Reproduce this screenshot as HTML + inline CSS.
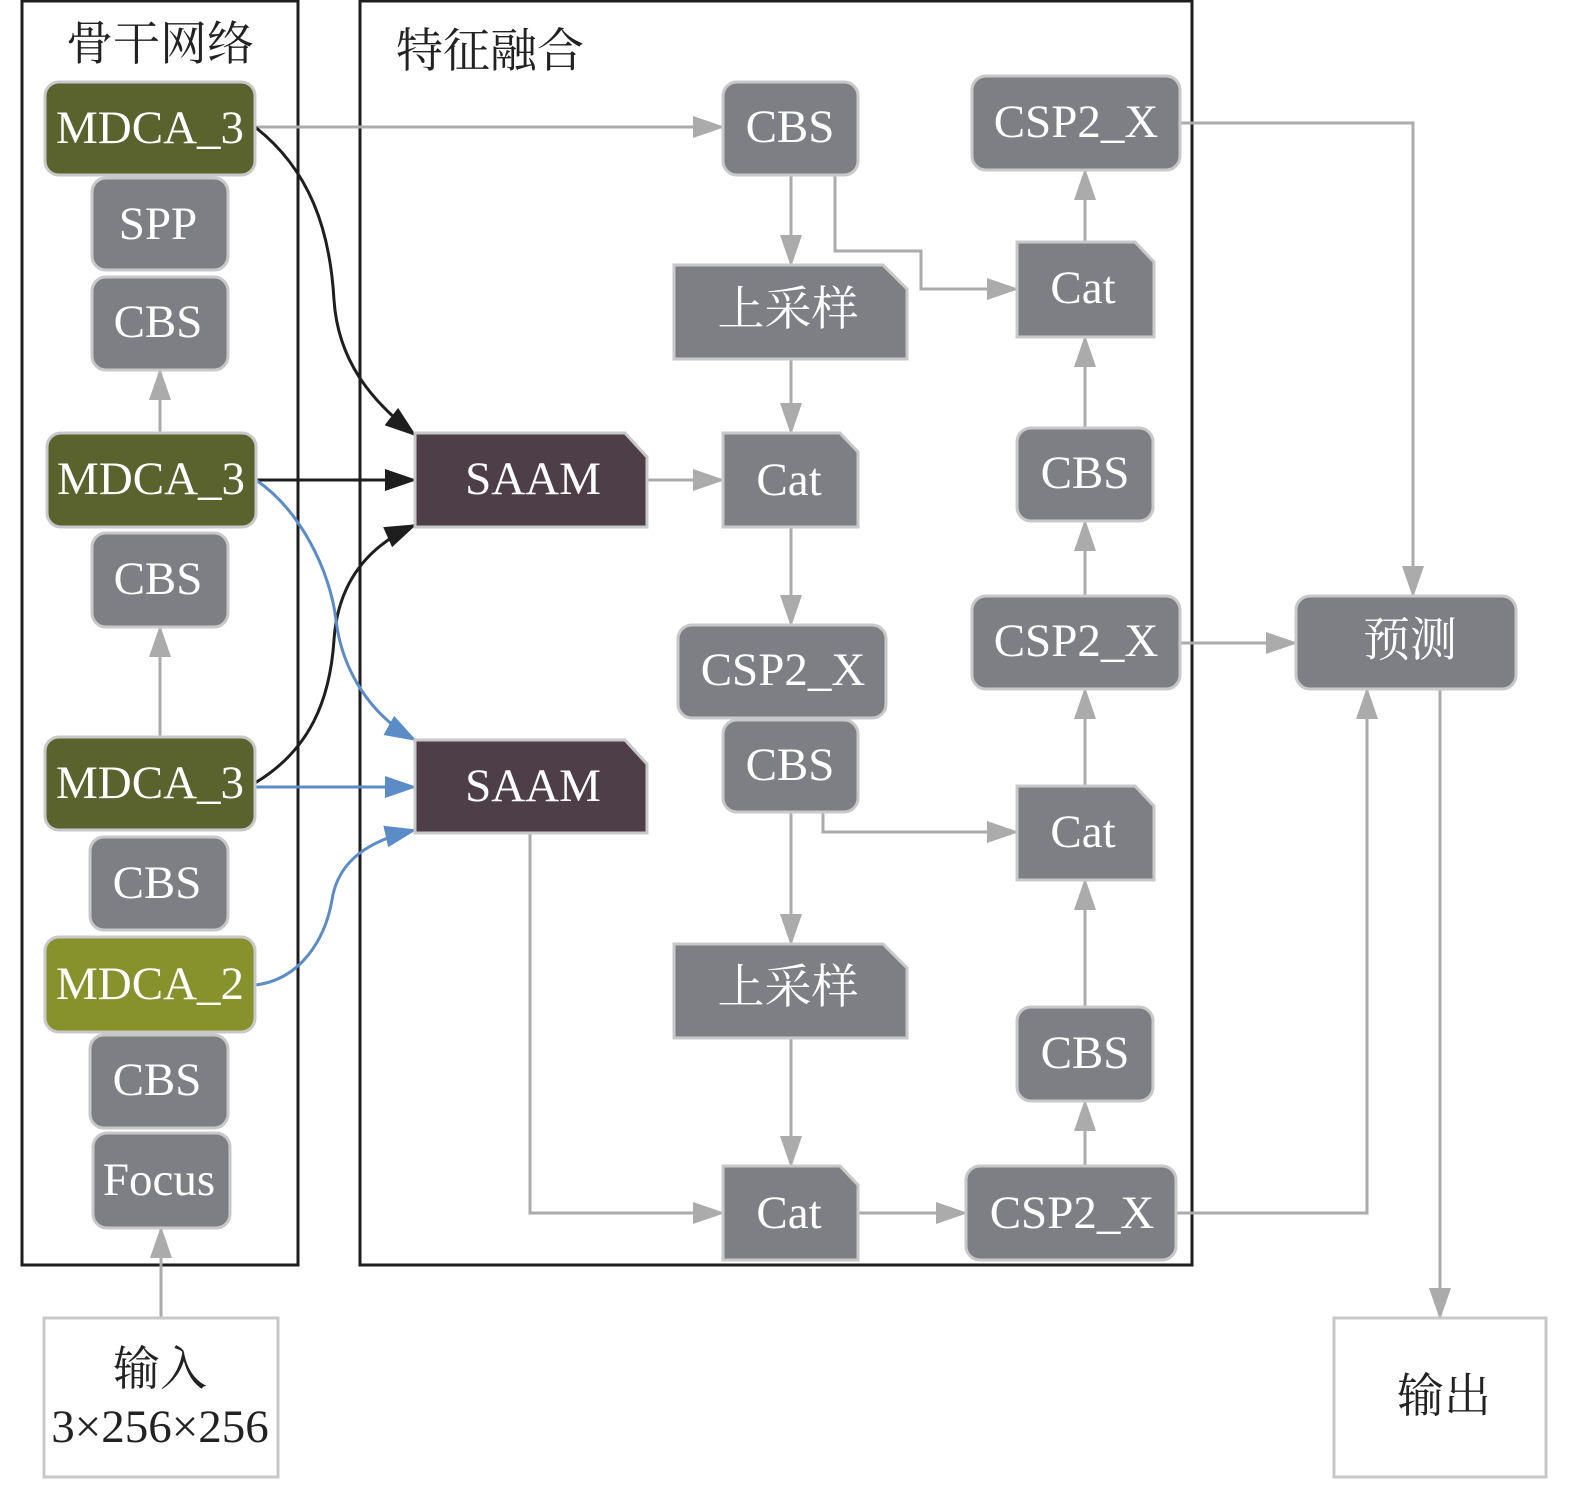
<!DOCTYPE html>
<html><head><meta charset="utf-8"><style>
html,body{margin:0;padding:0;background:#fff}
svg{display:block}
text{font-family:"Liberation Serif","Times New Roman","Noto Serif CJK SC",serif;text-anchor:middle;dominant-baseline:central}
.w{fill:#fff;font-size:47px}
.k{fill:#222;font-size:47px}
.n{fill:#7e7f85;stroke:#c8c8c8;stroke-width:3}
.g{fill:#5a622e;stroke:#c8c8c8;stroke-width:3}
.l{fill:#87922c;stroke:#c8c8c8;stroke-width:3}
.s{fill:#4e3e48;stroke:#c8c8c8;stroke-width:3}
.e{fill:none;stroke:#ababab;stroke-width:3}
.b{fill:none;stroke:#1e1e1e;stroke-width:3}
.u{fill:none;stroke:#5b8cc8;stroke-width:3}
</style></head><body>
<svg width="1575" height="1485" viewBox="0 0 1575 1485" xmlns="http://www.w3.org/2000/svg" font-family="Liberation Serif, serif">
<defs>
<marker id="ag" markerUnits="userSpaceOnUse" markerWidth="32" markerHeight="22" refX="30" refY="11" orient="auto"><path d="M0,0 L32,11 L0,22 Z" fill="#ababab"/></marker>
<marker id="ab" markerUnits="userSpaceOnUse" markerWidth="32" markerHeight="22" refX="30" refY="11" orient="auto"><path d="M0,0 L32,11 L0,22 Z" fill="#1e1e1e"/></marker>
<marker id="au" markerUnits="userSpaceOnUse" markerWidth="32" markerHeight="22" refX="30" refY="11" orient="auto"><path d="M0,0 L32,11 L0,22 Z" fill="#5b8cc8"/></marker>
</defs>
<rect x="22" y="1" width="276" height="1264" fill="none" stroke="#1e1e1e" stroke-width="3"/>
<rect x="360" y="1" width="832" height="1264" fill="none" stroke="#1e1e1e" stroke-width="3"/>
<text class="k" x="160" y="45">骨干网络</text>
<text class="k" x="490" y="52">特征融合</text>

<path class="e" d="M255,127 H723" marker-end="url(#ag)"/>
<path class="e" d="M160,433 V370" marker-end="url(#ag)"/>
<path class="e" d="M160,737 V627" marker-end="url(#ag)"/>
<path class="e" d="M161,1318 V1228" marker-end="url(#ag)"/>
<path class="e" d="M791,175 V265" marker-end="url(#ag)"/>
<path class="e" d="M835,175 V251 H921 V289 H1017" marker-end="url(#ag)"/>
<path class="e" d="M791,359 V433" marker-end="url(#ag)"/>
<path class="e" d="M647,480 H723" marker-end="url(#ag)"/>
<path class="e" d="M791,527 V625" marker-end="url(#ag)"/>
<path class="e" d="M791,812 V944" marker-end="url(#ag)"/>
<path class="e" d="M823,812 V832 H1017" marker-end="url(#ag)"/>
<path class="e" d="M791,1038 V1166" marker-end="url(#ag)"/>
<path class="e" d="M530,833 V1213 H723" marker-end="url(#ag)"/>
<path class="e" d="M858,1213 H966" marker-end="url(#ag)"/>
<path class="e" d="M1085,1166 V1101" marker-end="url(#ag)"/>
<path class="e" d="M1085,1007 V880" marker-end="url(#ag)"/>
<path class="e" d="M1085,786 V689" marker-end="url(#ag)"/>
<path class="e" d="M1085,596 V521" marker-end="url(#ag)"/>
<path class="e" d="M1085,428 V337" marker-end="url(#ag)"/>
<path class="e" d="M1085,242 V170" marker-end="url(#ag)"/>
<path class="e" d="M1180,123 H1413 V596" marker-end="url(#ag)"/>
<path class="e" d="M1180,643 H1296" marker-end="url(#ag)"/>
<path class="e" d="M1176,1213 H1367 V689" marker-end="url(#ag)"/>
<path class="e" d="M1440,689 V1318" marker-end="url(#ag)"/>

<path class="b" d="M255,127 C310,170 330,230 334,300 C338,360 370,400 415,435" marker-end="url(#ab)"/>
<path class="b" d="M256,480 H415" marker-end="url(#ab)"/>
<path class="b" d="M255,783 C310,750 330,700 334,640 C338,580 370,545 415,525" marker-end="url(#ab)"/>
<path class="u" d="M256,480 C300,510 330,570 336,620 C342,670 370,715 415,740" marker-end="url(#au)"/>
<path class="u" d="M255,787 H415" marker-end="url(#au)"/>
<path class="u" d="M255,985 C300,980 325,940 332,900 C338,860 370,840 415,830" marker-end="url(#au)"/>

<rect class="g" x="45" y="82" width="210" height="93" rx="14"/><text class="w" x="150" y="128">MDCA_3</text>
<rect class="n" x="92" y="178" width="136" height="92" rx="14"/><text class="w" x="158" y="224">SPP</text>
<rect class="n" x="92" y="277" width="136" height="93" rx="14"/><text class="w" x="158" y="322">CBS</text>
<rect class="g" x="47" y="433" width="209" height="94" rx="14"/><text class="w" x="151" y="479">MDCA_3</text>
<rect class="n" x="92" y="533" width="136" height="94" rx="14"/><text class="w" x="158" y="579">CBS</text>
<rect class="g" x="45" y="737" width="210" height="93" rx="14"/><text class="w" x="150" y="783">MDCA_3</text>
<rect class="n" x="90" y="837" width="138" height="93" rx="14"/><text class="w" x="157" y="883">CBS</text>
<rect class="l" x="45" y="937" width="210" height="95" rx="14"/><text class="w" x="150" y="984">MDCA_2</text>
<rect class="n" x="90" y="1035" width="138" height="93" rx="14"/><text class="w" x="157" y="1080">CBS</text>
<rect class="n" x="93" y="1133" width="137" height="95" rx="14"/><text class="w" x="159" y="1180">Focus</text>
<rect x="44" y="1318" width="234" height="159" fill="#fff" stroke="#c8c8c8" stroke-width="3"/>
<text class="k" x="160" y="1370">输入</text><text class="k" x="160" y="1427">3×256×256</text>

<rect class="n" x="723" y="82" width="135" height="93" rx="14"/><text class="w" x="790" y="127">CBS</text>
<rect class="n" x="972" y="76" width="208" height="94" rx="14"/><text class="w" x="1076" y="122">CSP2_X</text>
<path class="n" d="M674,265 H883 L907,289 V359 H674 Z"/><text class="w" x="788" y="310">上采样</text>
<path class="n" d="M1017,242 H1135 L1154,262 V337 H1017 Z"/><text class="w" x="1083" y="288">Cat</text>
<path class="s" d="M415,433 H625 L647,457 V527 H415 Z"/><text class="w" x="533" y="479">SAAM</text>
<path class="n" d="M723,433 H840 L858,452 V527 H723 Z"/><text class="w" x="789" y="480">Cat</text>
<rect class="n" x="1017" y="428" width="136" height="93" rx="14"/><text class="w" x="1085" y="473">CBS</text>
<rect class="n" x="678" y="625" width="208" height="93" rx="14"/><text class="w" x="783" y="670">CSP2_X</text>
<rect class="n" x="972" y="596" width="208" height="93" rx="14"/><text class="w" x="1076" y="641">CSP2_X</text>
<rect class="n" x="723" y="720" width="135" height="92" rx="14"/><text class="w" x="790" y="765">CBS</text>
<path class="s" d="M415,740 H625 L647,764 V833 H415 Z"/><text class="w" x="533" y="786">SAAM</text>
<path class="n" d="M1017,786 H1135 L1154,806 V880 H1017 Z"/><text class="w" x="1083" y="832">Cat</text>
<path class="n" d="M674,944 H883 L907,968 V1038 H674 Z"/><text class="w" x="788" y="988">上采样</text>
<rect class="n" x="1017" y="1007" width="136" height="94" rx="14"/><text class="w" x="1085" y="1053">CBS</text>
<path class="n" d="M723,1166 H840 L858,1185 V1260 H723 Z"/><text class="w" x="789" y="1213">Cat</text>
<rect class="n" x="966" y="1166" width="210" height="94" rx="14"/><text class="w" x="1072" y="1213">CSP2_X</text>
<rect class="n" x="1296" y="596" width="220" height="93" rx="14"/><text class="w" x="1410" y="641">预测</text>
<rect x="1334" y="1318" width="212" height="159" fill="#fff" stroke="#c8c8c8" stroke-width="3"/>
<text class="k" x="1444" y="1397">输出</text>
</svg>
</body></html>
